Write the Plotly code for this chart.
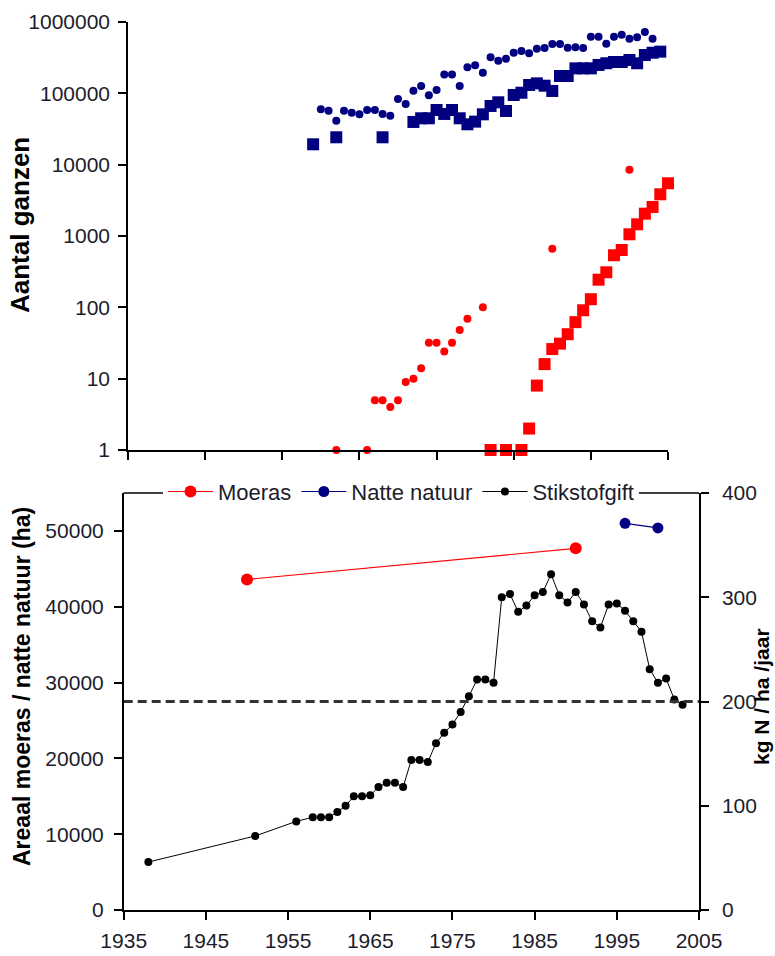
import plotly.graph_objects as go

# ---------------- data ----------------
# top panel (number of geese, log scale)
navy_circle_years = [1955, 1956, 1957, 1958, 1959, 1960, 1961, 1962, 1963, 1964,
                     1965, 1966, 1967, 1968, 1969, 1970, 1971, 1972, 1973, 1974,
                     1975, 1976, 1977, 1978, 1979, 1980, 1981, 1982, 1983, 1984,
                     1985, 1986, 1987, 1988, 1989, 1990, 1991, 1992, 1993, 1994,
                     1995, 1996, 1997, 1998]
navy_circle_vals = [59700, 57100, 41400, 57100, 53500, 50800, 58400, 58400, 51400, 48600,
                    83300, 71000, 109000, 127000, 94000, 111000, 183000, 183000, 127000, 232000,
                    247000, 195000, 320000, 287000, 306000, 371000, 393000, 364000, 423000, 432000,
                    492000, 492000, 437000, 442000, 432000, 623000, 623000, 497000, 623000, 664000,
                    584000, 611000, 725000, 584000]

navy_square_years = [1954, 1957, 1963, 1967, 1968, 1969, 1970, 1971, 1972, 1973,
                     1974, 1975, 1976, 1977, 1978, 1979, 1980, 1981, 1982, 1983,
                     1984, 1985, 1986, 1987, 1988, 1989, 1990, 1991, 1992, 1993,
                     1994, 1995, 1996, 1997, 1998, 1999]
navy_square_vals = [19300, 24200, 24200, 39700, 44700, 44700, 58400, 51400, 58400, 44700,
                    36800, 40100, 50800, 66500, 74900, 56600, 94800, 102000, 131000, 138000,
                    128000, 108000, 175000, 175000, 224000, 224000, 224000, 250000, 264000, 275000,
                    275000, 293000, 264000, 345000, 371000, 384000]

red_circle_years = [1957, 1961, 1962, 1963, 1964, 1965, 1966, 1967, 1968, 1969,
                    1970, 1971, 1972, 1973, 1974, 1976, 1985, 1995]
red_circle_vals = [1, 1, 5, 5, 4, 5, 9, 10, 14, 32,
                   32, 24, 32, 48, 69, 100, 660, 8500]

red_square_years = [1977, 1979, 1981, 1982, 1983, 1984, 1985, 1986, 1987, 1988,
                    1989, 1990, 1991, 1992, 1993, 1994, 1995, 1996, 1997, 1998,
                    1999, 2000]
red_square_vals = [1, 1, 1, 2, 8, 16, 26, 31, 42, 62,
                   91, 130, 244, 310, 537, 637, 1057, 1459, 2056, 2553,
                   3845, 5483]

top_tick_vals = [1, 10, 100, 1000, 10000, 100000, 1000000]
top_tick_text = ["1", "10", "100", "1000", "10000", "100000", "1000000"]

# bottom panel
moeras_years = [1950, 1990]
moeras_vals = [43600, 47700]

natte_years = [1996, 2000]
natte_vals = [51000, 50400]

stikstof_years = [1938, 1951, 1956, 1958, 1959, 1960, 1961, 1962, 1963, 1964,
                  1965, 1966, 1967, 1968, 1969, 1970, 1971, 1972, 1973, 1974,
                  1975, 1976, 1977, 1978, 1979, 1980, 1981, 1982, 1983, 1984,
                  1985, 1986, 1987, 1988, 1989, 1990, 1991, 1992, 1993, 1994,
                  1995, 1996, 1997, 1998, 1999, 2000, 2001, 2002, 2003]
stikstof_vals = [46, 71, 85, 89, 89, 89, 94, 100, 109, 109,
                 110, 118, 122, 122, 118, 144, 144, 142, 160, 170,
                 178, 190, 205, 221, 221, 218, 300, 303, 286, 292,
                 302, 305, 322, 302, 295, 305, 293, 277, 271, 293,
                 294, 287, 277, 267, 231, 218, 222, 202, 197]

left_tick_vals = [0, 10000, 20000, 30000, 40000, 50000]
left_tick_text = ["0", "10000", "20000", "30000", "40000", "50000"]
right_tick_vals = [0, 100, 200, 300, 400]

norm_level = 200  # dashed reference line (kg N / ha / jaar)

# ---------------- figure ----------------
W, H = 775, 956
FONT = "Arial, Liberation Sans, sans-serif"
TXT = "#1c1c2c"
NAVY = "#000080"
RED = "#ff0000"


def px_x(p):
    return p / W


def px_y(p):
    return (H - p) / H


fig = go.Figure()

# top panel traces
fig.add_trace(go.Scatter(x=navy_circle_years, y=navy_circle_vals, mode="markers",
                         marker=dict(symbol="circle", size=8, color=NAVY),
                         xaxis="x", yaxis="y", showlegend=False, cliponaxis=False))
fig.add_trace(go.Scatter(x=navy_square_years, y=navy_square_vals, mode="markers",
                         marker=dict(symbol="square", size=12, color=NAVY),
                         xaxis="x", yaxis="y", showlegend=False, cliponaxis=False))
fig.add_trace(go.Scatter(x=red_circle_years, y=red_circle_vals, mode="markers",
                         marker=dict(symbol="circle", size=8, color=RED),
                         xaxis="x", yaxis="y", showlegend=False, cliponaxis=False))
fig.add_trace(go.Scatter(x=red_square_years, y=red_square_vals, mode="markers",
                         marker=dict(symbol="square", size=12, color=RED),
                         xaxis="x", yaxis="y", showlegend=False, cliponaxis=False))

# bottom panel traces
fig.add_trace(go.Scatter(x=moeras_years, y=moeras_vals, mode="lines+markers", name="Moeras",
                         line=dict(color=RED, width=1.2),
                         marker=dict(symbol="circle", size=12, color=RED),
                         xaxis="x2", yaxis="y2", cliponaxis=False))
fig.add_trace(go.Scatter(x=natte_years, y=natte_vals, mode="lines+markers", name="Natte natuur",
                         line=dict(color=NAVY, width=1.2),
                         marker=dict(symbol="circle", size=11, color=NAVY),
                         xaxis="x2", yaxis="y2", cliponaxis=False))
fig.add_trace(go.Scatter(x=stikstof_years, y=stikstof_vals, mode="lines+markers", name="Stikstofgift",
                         line=dict(color="black", width=1),
                         marker=dict(symbol="circle", size=8, color="black"),
                         xaxis="x2", yaxis="y3", cliponaxis=False))
fig.add_trace(go.Scatter(x=[1935, 2005], y=[norm_level, norm_level], mode="lines",
                         line=dict(color="#333333", width=3, dash="9px,5px"),
                         xaxis="x2", yaxis="y3", showlegend=False, hoverinfo="skip"))

axis_common = dict(showgrid=False, zeroline=False, showline=True, linecolor="black",
                   linewidth=1.5, ticks="outside", tickcolor="black", tickwidth=1.5,
                   automargin=False,
                   tickfont=dict(family=FONT, size=21, color=TXT))

fig.update_layout(
    width=W, height=H,
    margin=dict(l=0, r=0, t=0, b=0, autoexpand=False),
    paper_bgcolor="white", plot_bgcolor="rgba(0,0,0,0)",
    font=dict(family=FONT, color=TXT),
    xaxis=dict(axis_common, domain=[px_x(128), px_x(668)], range=[1930, 2000],
               tick0=1930, dtick=10, ticklen=8, showticklabels=False, anchor="y"),
    yaxis=dict(axis_common, domain=[px_y(450), px_y(22)], type="log", range=[0, 6],
               tickvals=top_tick_vals, ticktext=top_tick_text, ticklen=8,
               anchor="x", ticklabelstandoff=4),
    xaxis2=dict(axis_common, domain=[px_x(123.7), px_x(699)], range=[1935, 2005],
                tick0=1935, dtick=10, ticklen=8, anchor="y2", ticklabelstandoff=3),
    yaxis2=dict(axis_common, domain=[px_y(910), px_y(493)], range=[0, 55000],
                tickvals=left_tick_vals, ticktext=left_tick_text, ticklen=8,
                anchor="x2", ticklabelstandoff=6),
    yaxis3=dict(axis_common, domain=[px_y(910), px_y(493)], range=[0, 400],
                tickvals=right_tick_vals, ticklen=8, side="right",
                overlaying="y2", anchor="x2", ticklabelstandoff=9),
    legend=dict(orientation="h", x=px_x(401), y=px_y(491.7), xanchor="center",
                yanchor="middle", bgcolor="white", borderwidth=0,
                font=dict(family=FONT, size=22, color=TXT), itemwidth=45),
    shapes=[dict(type="line", xref="x2 domain", yref="y2 domain", x0=0, x1=1, y0=1, y1=1,
                 line=dict(color="black", width=1.5), layer="below")],
    annotations=[
        dict(text="Aantal ganzen", textangle=-90, x=px_x(20), y=px_y(225),
             xref="paper", yref="paper", showarrow=False, xanchor="center", yanchor="middle",
             font=dict(family=FONT, size=26, color="black", weight="bold")),
        dict(text="Areaal moeras / natte natuur (ha)", textangle=-90, x=px_x(22), y=px_y(687),
             xref="paper", yref="paper", showarrow=False, xanchor="center", yanchor="middle",
             font=dict(family=FONT, size=23, color="black", weight="bold")),
        dict(text="kg N / ha /jaar", textangle=-90, x=px_x(761), y=px_y(697),
             xref="paper", yref="paper", showarrow=False, xanchor="center", yanchor="middle",
             font=dict(family=FONT, size=21, color="black", weight="bold")),
    ],
)

fig.write_html("out.html")
